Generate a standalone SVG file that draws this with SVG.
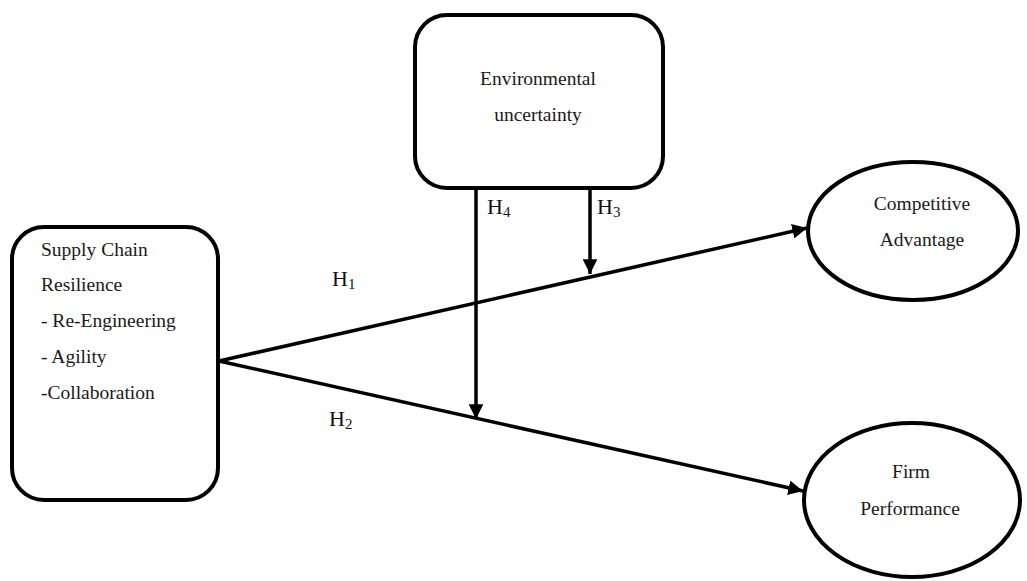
<svg xmlns="http://www.w3.org/2000/svg" width="1027" height="581" viewBox="0 0 1027 581">
<style>
.box{fill:#fff;stroke:#000;stroke-width:4}
.t{font-family:'Liberation Serif','Times New Roman','DejaVu Serif',serif;font-size:19.5px;fill:#1a1a1a}
.h{font-family:'Liberation Serif','Times New Roman','DejaVu Serif',serif;font-size:22px;fill:#111}
.sub{font-size:15px}
.ln{stroke:#000;stroke-width:3.5;fill:none}
</style>
<defs>
<marker id="arr" viewBox="0 0 10 10" refX="10" refY="5" markerWidth="4.2" markerHeight="4.2" orient="auto" markerUnits="strokeWidth">
<path d="M0,0 L10,5 L0,10 z" fill="#000"/>
</marker>
</defs>
<g id="connectors">
<line class="ln" x1="219" y1="361" x2="807" y2="228" marker-end="url(#arr)"/>
<line class="ln" x1="219" y1="361" x2="803" y2="491" marker-end="url(#arr)"/>
<line class="ln" x1="476" y1="187" x2="476" y2="419" marker-end="url(#arr)"/>
<line class="ln" x1="590" y1="188" x2="590" y2="274" marker-end="url(#arr)"/>
<text class="h" x="332" y="286">H<tspan class="sub" dy="3">1</tspan></text>
<text class="h" x="329" y="426">H<tspan class="sub" dy="3">2</tspan></text>
<text class="h" x="487" y="214">H<tspan class="sub" dy="3">4</tspan></text>
<text class="h" x="597" y="214">H<tspan class="sub" dy="3">3</tspan></text>
</g>
<g id="scr">
<rect class="box" x="12" y="227" width="206" height="273" rx="32" ry="32"/>
<text class="t" x="41" y="256">Supply Chain</text>
<text class="t" x="41" y="291">Resilience</text>
<text class="t" x="41" y="327">- Re-Engineering</text>
<text class="t" x="41" y="363">- Agility</text>
<text class="t" x="41" y="399">-Collaboration</text>
</g>
<g id="env">
<rect class="box" x="415" y="15" width="248" height="173" rx="32" ry="32"/>
<text class="t" x="538" y="85" text-anchor="middle">Environmental</text>
<text class="t" x="538" y="121" text-anchor="middle">uncertainty</text>
</g>
<g id="ca">
<ellipse class="box" cx="913" cy="231" rx="105" ry="69"/>
<text class="t" x="922" y="210" text-anchor="middle">Competitive</text>
<text class="t" x="922" y="246" text-anchor="middle">Advantage</text>
</g>
<g id="fp">
<ellipse class="box" cx="912" cy="500" rx="108" ry="77"/>
<text class="t" x="911" y="478" text-anchor="middle">Firm</text>
<text class="t" x="910" y="515" text-anchor="middle">Performance</text>
</g>
</svg>
